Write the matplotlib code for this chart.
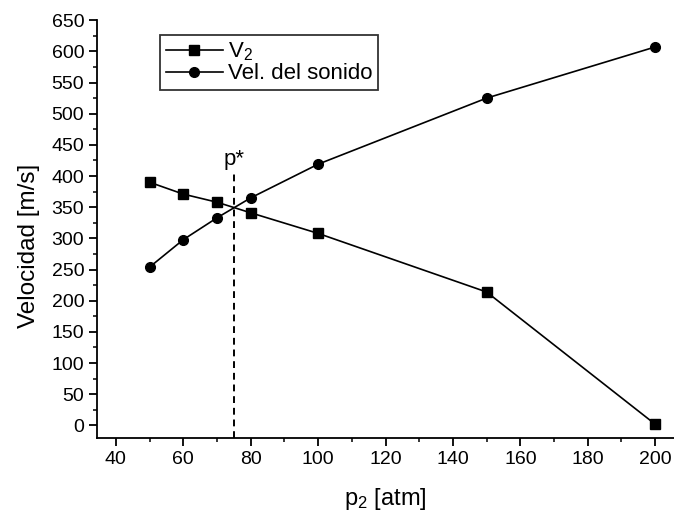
import matplotlib
matplotlib.use("Agg")
import matplotlib.pyplot as plt
from matplotlib.ticker import MultipleLocator

plt.rcParams['font.family'] = ['Liberation Sans', 'DejaVu Sans']
plt.rcParams['mathtext.fontset'] = 'custom'
plt.rcParams['mathtext.rm'] = 'Liberation Sans'
plt.rcParams['mathtext.it'] = 'Liberation Sans'
plt.rcParams['mathtext.default'] = 'regular'

p2 = [50, 60, 70, 80, 100, 150, 200]
v2 = [390, 371, 358, 341, 308, 214, 2]
p_sound = [50, 60, 70, 80, 100, 150, 200]
v_sound = [254, 298, 333, 365, 419, 525, 607]
p_star = 75
p_star_top = 407

fig = plt.figure(figsize=(6.74, 5.17), dpi=100)
ax = fig.add_axes([0.1445, 0.153, 0.855, 0.808])

h1, = ax.plot(p2, v2, '-', color='black', lw=1.2, marker='s', ms=6.5,
              mfc='black', mec='black', mew=1.0, zorder=3)
h2, = ax.plot(p_sound, v_sound, '-', color='black', lw=1.2, marker='o', ms=7,
              mfc='black', mec='black', zorder=3)

ax.plot([p_star, p_star], [-20, p_star_top], '--', color='black', lw=1.4,
        dashes=(3.5, 2.5))
ax.text(p_star, p_star_top + 3, 'p*', ha='center', va='bottom', fontsize=16)

ax.set_xlim(34.5, 205.5)
ax.set_ylim(-20, 650)
ax.set_xticks(range(40, 201, 20))
ax.set_yticks(range(0, 651, 50))
ax.xaxis.set_minor_locator(MultipleLocator(10))
ax.yaxis.set_minor_locator(MultipleLocator(25))

for s in ['top', 'right']:
    ax.spines[s].set_visible(False)
for s in ['left', 'bottom']:
    ax.spines[s].set_linewidth(1.3)

ax.tick_params(which='major', direction='out', length=5.5, width=1.3,
               labelsize=14, pad=4)
ax.tick_params(which='minor', direction='out', length=3, width=1.1)

ax.set_xlabel('p$_2$ [atm]', fontsize=17, labelpad=13)
ax.set_ylabel('Velocidad [m/s]', fontsize=17.5)
ax.yaxis.set_label_coords(-0.1, 0.46)

leg = ax.legend([h1, h2], ['V$_2$', 'Vel. del sonido'],
                loc='upper left', bbox_to_anchor=(0.1087, 0.964),
                borderaxespad=0, fontsize=16,
                frameon=True, fancybox=False, edgecolor='black',
                borderpad=0.25, handlelength=2.6, handletextpad=0.2,
                labelspacing=0.0)
leg.get_frame().set_linewidth(1.3)

fig.savefig('out.png', dpi=100)
